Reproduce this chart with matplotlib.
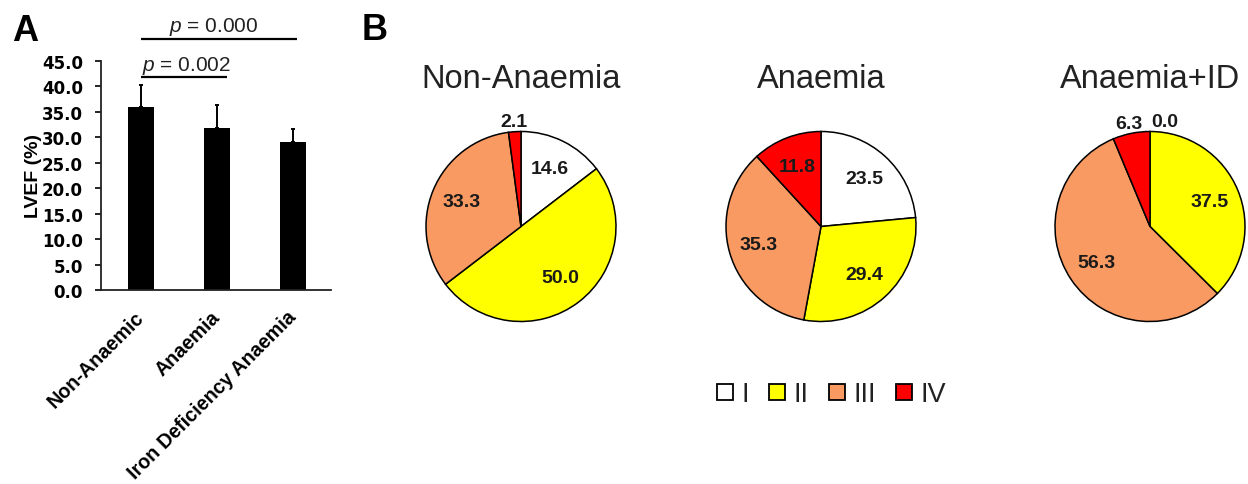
import numpy as np
import matplotlib
matplotlib.use("Agg")
import matplotlib.pyplot as plt
from matplotlib.lines import Line2D

plt.rcParams["font.family"] = ["Liberation Sans", "DejaVu Sans"]
plt.rcParams["mathtext.fontset"] = "custom"
plt.rcParams["mathtext.it"] = "Liberation Sans:italic"
plt.rcParams["mathtext.rm"] = "Liberation Sans"

# ---- Panel A data: LVEF by group ----
groups = ["Non-Anaemic", "Anaemia", "Iron Deficiency Anaemia"]
lvef_mean = [35.9, 31.8, 29.1]
lvef_sd = [4.4, 4.5, 2.6]
y_ticks = [0, 5, 10, 15, 20, 25, 30, 35, 40, 45]
p_labels = ["p = 0.002", "p = 0.000"]

# ---- Panel B data: NYHA class distribution (%) ----
pie_titles = ["Non-Anaemia", "Anaemia", "Anaemia+ID"]
classes = ["I", "II", "III", "IV"]
non_anaemia = [14.6, 50.0, 33.3, 2.1]
anaemia = [23.5, 29.4, 35.3, 11.8]
anaemia_id = [0.0, 37.5, 56.3, 6.3]
class_colors = ["#FFFFFF", "#FFFF00", "#F99A63", "#FF0000"]

W, H = 1248, 485
fig = plt.figure(figsize=(W / 100, H / 100), dpi=100)


def px_axes(left, top, right, bottom):
    return fig.add_axes([left / W, 1 - bottom / H, (right - left) / W, (bottom - top) / H])


# ---------------- Panel A ----------------
ax = px_axes(101, 62, 331, 291)
x = np.arange(len(groups))
ax.bar(x, lvef_mean, width=0.33, color="black", zorder=2)
ax.errorbar(x, lvef_mean, yerr=[np.zeros(len(x)), lvef_sd], fmt="none",
            ecolor="black", elinewidth=1.4, capsize=1.5, capthick=1.4, zorder=3)
ax.set_xlim(-0.526, 2.5)
ax.set_ylim(0, 45)
ax.set_yticks(y_ticks)
ax.set_yticklabels([f"{v:.1f}" for v in y_ticks], fontfamily="DejaVu Sans",
                   fontweight="bold", fontsize=12)
ax.set_xticks(x)
ax.set_xticklabels(groups, rotation=45, ha="right", va="center",
                   rotation_mode="anchor", fontweight="bold", fontsize=14.2)
ax.tick_params(axis="x", length=0, pad=17)
ax.tick_params(axis="y", length=4, width=1.2, direction="out", pad=9)
for s in ["top", "right"]:
    ax.spines[s].set_visible(False)
for s in ["left", "bottom"]:
    ax.spines[s].set_linewidth(1.3)
    ax.spines[s].set_color("#222222")
ax.set_ylabel("LVEF (%)", fontweight="bold", fontsize=14)
ax.yaxis.set_label_coords(-0.255, 0.5)

# significance brackets: (line start, line end, line height, text x, text baseline)
sig = [(0.0, 1.13, 41.8, 0.60, 43.2, p_labels[0]),
       (0.0, 2.05, 49.3, 0.96, 50.9, p_labels[1])]
for x0, x1, yl, xt, yt, lab in sig:
    ax.plot([x0, x1], [yl, yl], color="black", lw=1.6, clip_on=False,
            solid_capstyle="butt")
    ax.text(xt, yt, r"$p$" + lab[1:], ha="center", va="baseline",
            fontsize=15, color="#222222", clip_on=False)

fig.text(12 / W, 1 - 41 / H, "A", fontsize=26, fontweight="bold", va="baseline")
fig.text(362 / W, 1 - 40 / H, "B", fontsize=26, fontweight="bold", va="baseline")

# ---------------- Panel B ----------------
R = 95.0
S = 125.0
centers = [(521, 227.5), (821, 227.5), (1150, 227.5)]
datasets = [non_anaemia, anaemia, anaemia_id]
for (cx, cy), vals, title in zip(centers, datasets, pie_titles):
    pax = px_axes(cx - S, cy - S, cx + S, cy + S)
    wedges, _ = pax.pie(vals, colors=class_colors, startangle=90, counterclock=False,
                        radius=1.0,
                        wedgeprops=dict(edgecolor="black", linewidth=1.1))
    pax.set_xlim(-S / R, S / R)
    pax.set_ylim(-S / R, S / R)
    pax.axis("off")
    for w, v in zip(wedges, vals):
        mid = np.deg2rad((w.theta1 + w.theta2) / 2)
        if v >= 10:
            d = 0.68
            tx, ty = d * np.cos(mid), d * np.sin(mid)
        else:
            d = 1.11
            tx, ty = d * np.cos(mid), d * np.sin(mid)
            if v == 0:
                tx += 0.16
        pax.text(tx, ty, f"{v:.1f}", ha="center", va="center", fontsize=14,
                 fontweight="bold", color="#1a1a1a", clip_on=False)
    pax.text(0, (cy - 88) / R, title, ha="center", va="baseline", fontsize=23.5,
             color="#222222", clip_on=False)

handles = [Line2D([], [], marker="s", linestyle="none", markersize=11,
                  markerfacecolor=c, markeredgecolor="black", markeredgewidth=1.3)
           for c in class_colors]
leg = fig.legend(handles, classes, ncol=4, loc="center",
                 bbox_to_anchor=(831 / W, 1 - 395 / H), frameon=False, fontsize=19.5,
                 handlelength=0.7, handletextpad=0.25, columnspacing=0.7,
                 borderpad=0, labelcolor="#222222")

fig.savefig("out.png", dpi=100)
